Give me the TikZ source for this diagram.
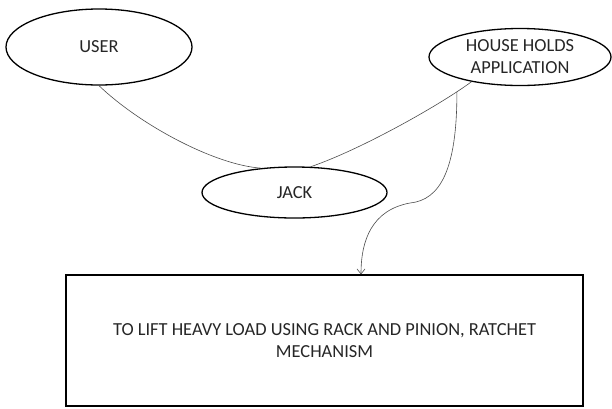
\documentclass[tikz,border=0pt]{standalone}
\usepackage{fontspec}
\setmainfont{Carlito}
\usetikzlibrary{shapes.geometric,positioning,arrows.meta}

\tikzset{
  bubble/.style={ellipse,draw=black,line width=1.3pt,inner sep=0pt,text=black!85},
  taskbox/.style={rectangle,draw=black,line width=1.2pt,inner sep=0pt,align=center,text=black!85},
  link/.style={draw=black!70,line width=0.6pt}
}

\begin{document}
\begin{tikzpicture}[x=1pt,y=-1pt,font=\fontsize{18.4}{22}\selectfont]

\useasboundingbox (0,0) rectangle (612,408);

%draw the three ellipses
\node[bubble,minimum width=186pt,minimum height=76pt] at (99,47) (user) {USER};
\node[bubble,minimum width=182pt,minimum height=57pt,align=center] at (520,57) (house) {HOUSE HOLDS\\APPLICATION};
\node[bubble,minimum width=185pt,minimum height=51pt] at (294.5,192.5) (jack) {JACK};

%%%%%%%

%draw the box at the bottom
\node[taskbox,minimum width=517pt,minimum height=131pt] at (324.5,340.5) (task) {TO LIFT HEAVY LOAD USING RACK AND PINION, RATCHET\\MECHANISM};

% curved links
\draw[link] (user.south) .. controls (140,125) and (215,165) .. (jack.144);
\draw[link] (house.207) .. controls (440,105) and (360,150) .. (jack.58) coordinate[pos=0.13] (split);
\draw[link,-{Straight Barb[length=5pt,width=8pt]}] (split) .. controls (457,170) and (440,200) .. (410,203) .. controls (372,210) and (361,240) .. (task.north -| 361,0);

\end{tikzpicture}
\end{document}
